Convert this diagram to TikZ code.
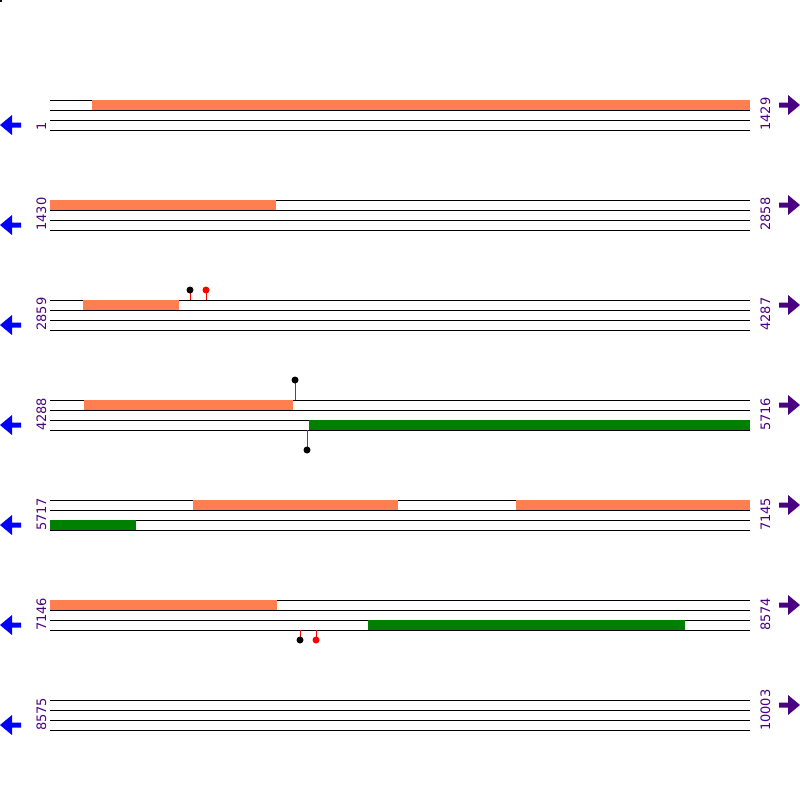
\documentclass[tikz,border=0pt]{standalone}
\usepackage{fontspec}
\newfontfamily\labelfont{DejaVu Sans}
\definecolor{barorange}{RGB}{255,127,80}
\definecolor{bargreen}{RGB}{0,128,0}
\definecolor{numpurple}{RGB}{75,0,130}
\tikzset{
  strand/.style={draw=black,line width=1pt},
  fwdbar/.style={fill=barorange,draw=none},
  revbar/.style={fill=bargreen,draw=none},
  stick/.style={draw=red,line width=1pt},
  lefttag/.style={rotate=90,anchor=base west,inner sep=0pt,text=numpurple,font=\labelfont\fontsize{13}{13}\selectfont},
  righttag/.style={lefttag},
  leftarrow/.style={fill=blue,draw=none},
  rightarrow/.style={fill=numpurple,draw=none}
}
\begin{document}
\begin{tikzpicture}[x=1pt,y=1pt,yscale=-1]
\useasboundingbox (0,0) rectangle (800,800);
%Shape: corner dot
\fill[black] (0,0) rectangle (2,2);

%Straight Lines row 1
\draw[strand] (50,100) -- (750,100) (50,110) -- (750,110) (50,120) -- (750,120) (50,130) -- (750,130);
%Straight Lines row 2
\draw[strand] (50,200) -- (750,200) (50,210) -- (750,210) (50,220) -- (750,220) (50,230) -- (750,230);
%Straight Lines row 3
\draw[strand] (50,300) -- (750,300) (50,310) -- (750,310) (50,320) -- (750,320) (50,330) -- (750,330);
%Straight Lines row 4
\draw[strand] (50,400) -- (750,400) (50,410) -- (750,410) (50,420) -- (750,420) (50,430) -- (750,430);
%Straight Lines row 5
\draw[strand] (50,500) -- (750,500) (50,510) -- (750,510) (50,520) -- (750,520) (50,530) -- (750,530);
%Straight Lines row 6
\draw[strand] (50,600) -- (750,600) (50,610) -- (750,610) (50,620) -- (750,620) (50,630) -- (750,630);
%Straight Lines row 7
\draw[strand] (50,700) -- (750,700) (50,710) -- (750,710) (50,720) -- (750,720) (50,730) -- (750,730);

%Shape: Rectangles
\fill[fwdbar] (92,100) rectangle (750,110);
\fill[fwdbar] (50,200) rectangle (276,210);
\fill[fwdbar] (83,300) rectangle (179,310);
\fill[fwdbar] (84,400) rectangle (293,410);
\fill[revbar] (309,420) rectangle (750,430);
\fill[fwdbar] (193,500) rectangle (398,510);
\fill[fwdbar] (516,500) rectangle (750,510);
\fill[revbar] (50,520) rectangle (136,530);
\fill[fwdbar] (50,600) rectangle (277,610);
\fill[revbar] (368,620) rectangle (685,630);

%Lollipops
\draw[stick] (190,300) -- (190,290);
\fill[black] (190,290) circle (3.5);
\draw[stick] (206,300) -- (206,290);
\fill[red] (206,290) circle (3.5);
\draw[stick] (295,400) -- (295,380);
\fill[black] (295,380) circle (3.5);
\draw[stick] (307,430) -- (307,450);
\fill[black] (307,450) circle (3.5);
\draw[stick] (300,630) -- (300,640);
\fill[black] (300,640) circle (3.5);
\draw[stick] (316,630) -- (316,640);
\fill[red] (316,640) circle (3.5);

% Text Node
\node[lefttag] (start1) at (46,131) {1};
\node[lefttag] (start2) at (46,231) {1430};
\node[lefttag] (start3) at (46,331) {2859};
\node[lefttag] (start4) at (46,431) {4288};
\node[lefttag] (start5) at (46,531) {5717};
\node[lefttag] (start6) at (46,631) {7146};
\node[lefttag] (start7) at (46,731) {8575};
% Text Node
\node[righttag] (end1) at (770,131) {1429};
\node[righttag] (end2) at (770,231) {2858};
\node[righttag] (end3) at (770,331) {4287};
\node[righttag] (end4) at (770,431) {5716};
\node[righttag] (end5) at (770,531) {7145};
\node[righttag] (end6) at (770,631) {8574};
\node[righttag] (end7) at (770,731) {10003};

%Shape: Arrows
\fill[leftarrow] (0,125) -- (12,115) -- (12,122.5) -- (21,122.5) -- (21,127.5) -- (12,127.5) -- (12,135) -- cycle;
\fill[leftarrow] (0,225) -- (12,215) -- (12,222.5) -- (21,222.5) -- (21,227.5) -- (12,227.5) -- (12,235) -- cycle;
\fill[leftarrow] (0,325) -- (12,315) -- (12,322.5) -- (21,322.5) -- (21,327.5) -- (12,327.5) -- (12,335) -- cycle;
\fill[leftarrow] (0,425) -- (12,415) -- (12,422.5) -- (21,422.5) -- (21,427.5) -- (12,427.5) -- (12,435) -- cycle;
\fill[leftarrow] (0,525) -- (12,515) -- (12,522.5) -- (21,522.5) -- (21,527.5) -- (12,527.5) -- (12,535) -- cycle;
\fill[leftarrow] (0,625) -- (12,615) -- (12,622.5) -- (21,622.5) -- (21,627.5) -- (12,627.5) -- (12,635) -- cycle;
\fill[leftarrow] (0,725) -- (12,715) -- (12,722.5) -- (21,722.5) -- (21,727.5) -- (12,727.5) -- (12,735) -- cycle;
\fill[rightarrow] (800,105) -- (788,95) -- (788,102.5) -- (779,102.5) -- (779,107.5) -- (788,107.5) -- (788,115) -- cycle;
\fill[rightarrow] (800,205) -- (788,195) -- (788,202.5) -- (779,202.5) -- (779,207.5) -- (788,207.5) -- (788,215) -- cycle;
\fill[rightarrow] (800,305) -- (788,295) -- (788,302.5) -- (779,302.5) -- (779,307.5) -- (788,307.5) -- (788,315) -- cycle;
\fill[rightarrow] (800,405) -- (788,395) -- (788,402.5) -- (779,402.5) -- (779,407.5) -- (788,407.5) -- (788,415) -- cycle;
\fill[rightarrow] (800,505) -- (788,495) -- (788,502.5) -- (779,502.5) -- (779,507.5) -- (788,507.5) -- (788,515) -- cycle;
\fill[rightarrow] (800,605) -- (788,595) -- (788,602.5) -- (779,602.5) -- (779,607.5) -- (788,607.5) -- (788,615) -- cycle;
\fill[rightarrow] (800,705) -- (788,695) -- (788,702.5) -- (779,702.5) -- (779,707.5) -- (788,707.5) -- (788,715) -- cycle;
\end{tikzpicture}
\end{document}
